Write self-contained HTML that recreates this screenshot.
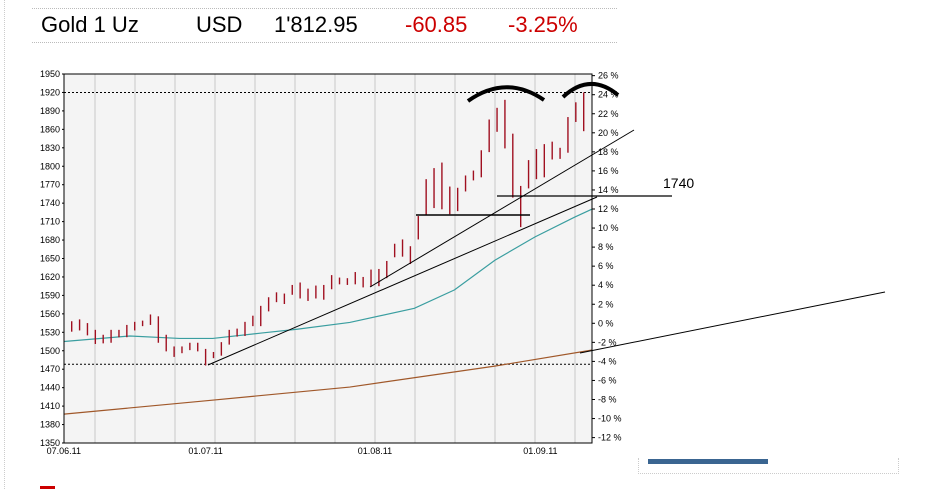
<!DOCTYPE html>
<html><head><meta charset="utf-8"><style>
body{margin:0;width:950px;height:489px;overflow:hidden;background:#fff;font-family:"Liberation Sans",sans-serif;}
#hdr span{position:absolute;top:12px;font-size:22px;color:#000;}
</style></head><body>
<div style="position:absolute;left:4px;top:0;height:489px;border-left:1px dotted #ccc"></div>
<div style="position:absolute;left:32px;top:8px;width:585px;border-top:1px dotted #bbb"></div>
<div style="position:absolute;left:32px;top:42px;width:585px;border-top:1px dotted #bbb"></div>
<div id="hdr">
<span style="left:41px">Gold 1 Uz</span>
<span style="left:196px">USD</span>
<span style="left:274px">1'812.95</span>
<span style="left:405px;color:#c00">-60.85</span>
<span style="left:508px;color:#c00">-3.25%</span>
</div>
<div style="position:absolute;left:638px;top:458px;width:259px;height:15px;border:1px dotted #ccc;border-top:none"></div>
<div style="position:absolute;left:648px;top:459px;width:120px;height:5px;background:#3a6591"></div>
<div style="position:absolute;left:40px;top:486px;width:15px;height:3px;background:#c00"></div>
<svg id="chart" width="950" height="489" style="position:absolute;left:0;top:0" font-family="Liberation Sans, sans-serif"></svg>
<script>
const yTicks=[1350,1380,1410,1440,1470,1500,1530,1560,1590,1620,1650,1680,1710,1740,1770,1800,1830,1860,1890,1920,1950];
const pctTicks=[26,24,22,20,18,16,14,12,10,8,6,4,2,0,-2,-4,-6,-8,-10,-12];
const dateLabels=["07.06.11","01.07.11","01.08.11","01.09.11"];
const dateIdx=[-1,17,38.5,59.5];
const highs=[1548,1551,1545,1534,1526,1534,1534,1542,1547,1549,1559,1556,1526,1507,1507,1513,1513,1503,1498,1514,1534,1536,1547,1557,1573,1587,1595,1593,1607,1611,1601,1606,1607,1623,1619,1618,1628,1620,1632,1633,1646,1674,1681,1670,1719,1779,1797,1806,1767,1765,1785,1793,1826,1876,1895,1908,1853,1768,1810,1828,1836,1840,1830,1880,1904,1920];
const lows=[1531,1533,1525,1511,1512,1513,1522,1522,1533,1540,1542,1513,1499,1490,1496,1501,1499,1476,1488,1492,1510,1523,1524,1540,1540,1564,1579,1576,1591,1585,1581,1585,1583,1600,1608,1607,1608,1603,1604,1605,1618,1652,1653,1641,1681,1720,1732,1730,1722,1727,1759,1777,1782,1823,1856,1829,1749,1701,1764,1779,1782,1811,1812,1822,1872,1857];
const maFastIdx=[-1.1,7.4,13.7,17.9,24.2,28.6,35.3,43.5,48.6,53.7,58.8,63.8,66];
const maFast=[1515,1524,1520,1520,1529,1535,1546,1569,1599,1647,1685,1717,1730];
const maSlowIdx=[-1.1,16.5,35.3,53.7,66];
const maSlow=[1397,1418,1441,1475,1501];
const L=64,R=592,T=74,B=443,Y0=1350,Y1=1950;
const sy=v=>B-(v-Y0)*(B-T)/(Y1-Y0);
const sx=i=>71.7+i*(512/65);
const py=p=>323.3-p*9.525;
const svg=document.getElementById('chart');const NS='http://www.w3.org/2000/svg';
function mk(t,a){const e=document.createElementNS(NS,t);for(const k in a)e.setAttribute(k,a[k]);svg.appendChild(e);return e;}
let e=mk('rect',{x:L,y:T,width:R-L,height:B-T,fill:'#f4f4f4'});


for(let k=0;k<13;k++){const x=95+k*40;if(x>=R)break;e=mk('line',{x1:x,x2:x,y1:T,y2:B,stroke:'#c8c8c8','stroke-width':1});

}
yTicks.forEach(v=>{const y=sy(v);e=mk('text',{x:L-4,y:y+3,'text-anchor':'end','font-size':9});e.textContent=v;


mk('line',{x1:L-2,x2:L,y1:y,y2:y,stroke:'#000'});});
pctTicks.forEach(p=>{const y=py(p);e=mk('text',{x:R+6,y:y+3,'font-size':9});e.textContent=p+' %';


mk('line',{x1:R,x2:R+3,y1:y,y2:y,stroke:'#000'});});
dateLabels.forEach((d,k)=>{e=mk('text',{x:sx(dateIdx[k]),y:B+11,'text-anchor':'middle','font-size':9});e.textContent=d;

});
[1920,1478].forEach(v=>{e=mk('line',{x1:L,x2:R,y1:sy(v),y2:sy(v),stroke:'#000','stroke-dasharray':'2,2'});

});
function poly(ix,vs,col,name){const d=ix.map((i,k)=>(k?'L':'M')+Math.max(L,Math.min(R,sx(i)))+','+sy(vs[k])).join('');e=mk('path',{d:d,fill:'none',stroke:col,'stroke-width':1.2});

}
poly(maFastIdx,maFast,'#3a9ea0','moving-average-fast');
poly(maSlowIdx,maSlow,'#a0582a','moving-average-slow');
highs.forEach((h,i)=>{e=mk('line',{x1:sx(i),x2:sx(i),y1:sy(h),y2:sy(lows[i]),stroke:'#a01020','stroke-width':1.4});

});
[[208,365,597,197,1],[370,287,634,130,1],[497,196,672,196,1.2],[416,215,530,215,1.4],[580,353,885,292,1]].forEach(a=>{e=mk('line',{x1:a[0],y1:a[1],x2:a[2],y2:a[3],stroke:'#000','stroke-width':a[4]});

});
e=mk('text',{x:663,y:188,'font-size':14});e.textContent='1740';


[['M468,101 Q506,74 544,100'],['M563,97 Q590,72 618,95']].forEach(a=>{e=mk('path',{d:a[0],fill:'none',stroke:'#000','stroke-width':4});

});
e=mk('path',{d:`M${L},${T}V${B}H${R}V${T}H${L}`,fill:'none',stroke:'#000','stroke-width':1});


</script>
</body></html>
